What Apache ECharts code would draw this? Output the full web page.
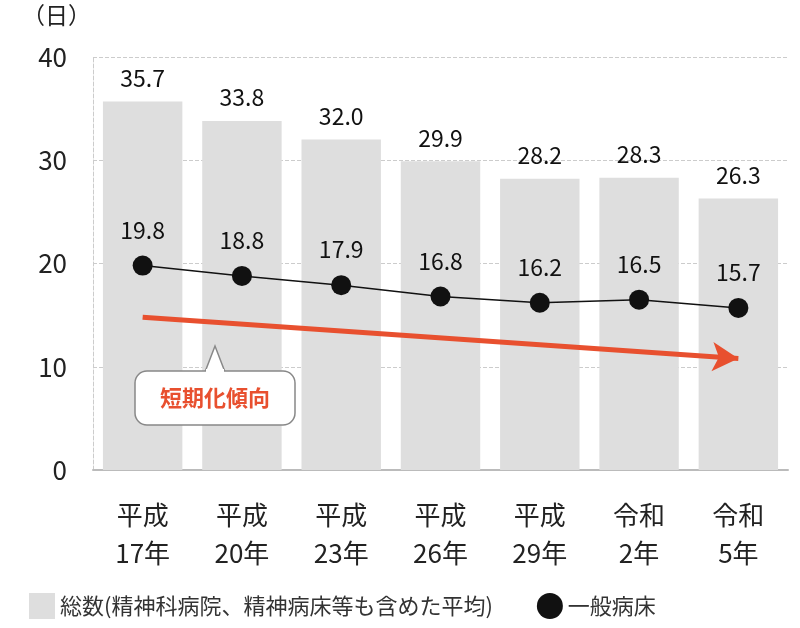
<!DOCTYPE html>
<html>
<head>
<meta charset="utf-8">
<script src="https://cdn.jsdelivr.net/npm/echarts@6/dist/echarts.min.js"></script>
<style>html,body{margin:0;padding:0;background:#fff}#c{width:800px;height:628px}</style>
</head>
<body>
<div id="c"></div>
<script>
const categories = ['平成\n17年', '平成\n20年', '平成\n23年', '平成\n26年', '平成\n29年', '令和\n2年', '令和\n5年']
const totalDays = [35.7, 33.8, 32.0, 29.9, 28.2, 28.3, 26.3]
const generalDays = [19.8, 18.8, 17.9, 16.8, 16.2, 16.5, 15.7]
const trendLine = [[0, 14.8], [6, 10.8]]

const font = '"Noto Sans CJK JP", "Noto Sans", sans-serif'
const chart = echarts.init(document.getElementById('c'))

chart.setOption({
  textStyle: { fontFamily: font },
  animation: false,
  grid: { left: 93, right: 12, top: 57, bottom: 158 },
  legend: {
    bottom: 4, left: 24, itemGap: 44, itemWidth: 26, itemHeight: 26,
    textStyle: { fontSize: 22, color: '#333', fontFamily: font },
    data: [
      { name: '総数(精神科病院、精神病床等も含めた平均)', icon: 'rect' },
      { name: '一般病床', icon: 'circle' }
    ]
  },
  xAxis: {
    type: 'category', data: categories,
    axisLine: { lineStyle: { color: '#bbb', width: 2 } },
    axisTick: { show: false },
    axisLabel: { fontSize: 26, color: '#222', lineHeight: 38, margin: 26 }
  },
  yAxis: {
    type: 'value', min: 0, max: 40, interval: 10,
    axisLine: { show: true, lineStyle: { color: '#ccc', type: 'dashed' } },
    splitLine: { lineStyle: { color: '#ccc', type: 'dashed' } },
    axisLabel: { fontSize: 26, color: '#222', margin: 26 }
  },
  series: [
    {
      name: '総数(精神科病院、精神病床等も含めた平均)', type: 'bar', data: totalDays,
      barCategoryGap: '20%', itemStyle: { color: '#dedede' },
      label: { show: true, position: 'top', distance: 12, fontSize: 23, color: '#111', formatter: p => p.value.toFixed(1) }
    },
    {
      name: '一般病床', type: 'line', data: generalDays,
      symbol: 'circle', symbolSize: 20,
      itemStyle: { color: '#111' }, lineStyle: { color: '#111', width: 1.5 },
      label: { show: true, position: 'top', distance: 14, fontSize: 23, color: '#111', formatter: p => p.value.toFixed(1) },
      markLine: {
        silent: true, symbol: ['none', 'arrow'], symbolSize: [22, 26],
        lineStyle: { color: '#e8502f', width: 5, type: 'solid' },
        label: { show: false },
        data: [[{ coord: trendLine[0] }, { coord: trendLine[1] }]]
      }
    }
  ],
  graphic: [
    { type: 'text', left: 22, top: 4, style: { text: '（日）', fontSize: 23, fill: '#222', fontFamily: font } },
    {
      type: 'polygon', z: 10,
      shape: { points: [[205, 372], [215, 346], [225, 372]] },
      style: { fill: '#fff', stroke: '#888', lineWidth: 1.5 }
    },
    {
      type: 'rect', z: 11,
      shape: { x: 135, y: 371, width: 160, height: 54, r: 12 },
      style: { fill: '#fff', stroke: '#888', lineWidth: 1.5 }
    },
    { type: 'rect', z: 12, shape: { x: 206, y: 369, width: 18, height: 4 }, style: { fill: '#fff' } },
    {
      type: 'text', z: 13, x: 215, y: 398,
      style: { text: '短期化傾向', fontSize: 22, fontWeight: 'bold', fill: '#e8502f', align: 'center', verticalAlign: 'middle', fontFamily: font }
    }
  ]
})
</script>
</body>
</html>
